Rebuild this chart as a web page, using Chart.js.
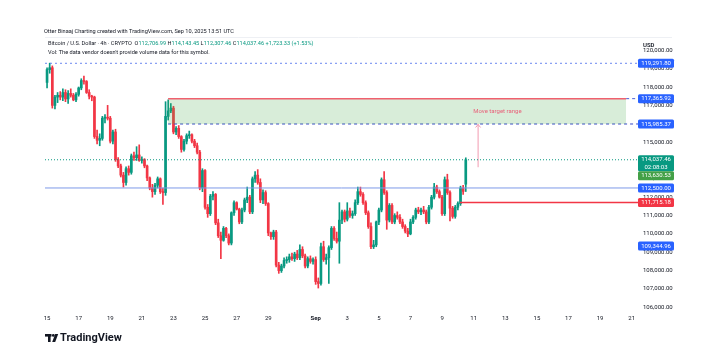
<!DOCTYPE html>
<html><head><meta charset="utf-8">
<script src="https://cdn.jsdelivr.net/npm/chart.js@4.4.1/dist/chart.umd.min.js"></script>
<style>html,body{margin:0;padding:0;background:#fff;}#wrap{width:720px;height:352px;}</style>
</head><body><div id="wrap"><canvas id="c" width="720" height="352"></canvas></div>
<script>
// ---- DATA ----
// 4h candles BTCUSD, first candle Aug 15 2025 00:00 UTC; x value = days since Aug 15
const candleStepDays = 1/6;
// [open, high, low, close]
const ohlc = [
[118250,119050,117950,118950],[118950,119300,118750,119050],[119050,119150,116850,117000],[117000,117550,116800,117450],[117450,117700,117150,117550],[117550,117750,117300,117450],
[117450,117900,117250,117700],[117700,117850,117200,117350],[117350,117800,117100,117650],[117650,117900,117450,117550],[117550,117650,117250,117300],[117300,117700,117200,117600],
[117600,118000,117500,117950],[117950,118450,117850,118350],[118350,118600,118150,118300],[118300,118350,117650,117700],[117700,117850,117350,117500],[117500,117550,117250,117450],
[117450,117500,115200,115300],[115300,115650,114900,115100],[115100,115450,114800,115200],[115200,116400,115100,116300],[116300,116500,116050,116350],[116350,117000,116200,116300],
[116300,116400,114950,115050],[115050,115650,114900,115550],[115550,115700,113950,114050],[114050,114150,113600,113700],[113700,113800,113100,113200],[113200,113350,112550,112800],
[112800,113650,112650,113550],[113550,113700,113200,113350],[113350,114350,113250,114250],[114250,114450,114000,114150],[114150,114750,114000,114300],[114300,114850,113950,114000],
[114000,114200,113850,114050],[114050,114100,113600,113700],[113700,113750,112900,113050],[113050,113100,112400,112500],[112500,112700,112000,112300],[112300,112750,112150,112650],
[112650,113100,112500,113000],[113000,113050,112200,112300],[112300,112500,111600,112250],[112250,117200,112100,116400],[116400,117300,116200,116700],[116700,117100,116600,116850],
[116850,116950,115450,115550],[115550,115850,115400,115750],[115750,115900,115200,115300],[115300,115350,114450,114600],[114600,115150,114500,115050],[115050,115450,114900,115350],
[115350,115600,115200,115400],[115400,115450,114950,115050],[115050,115150,114700,114800],[114800,114950,114350,114450],[114450,114550,112400,112500],[112500,113550,112300,113450],
[113450,113500,111350,111450],[111450,111600,110900,111100],[111100,112150,111000,112050],[112050,112300,111850,112150],[112150,112200,110500,110600],[110600,110800,109800,109900],
[109900,110100,108650,109650],[109650,110400,109600,110300],[110300,110350,109800,109900],[109900,110000,109400,109500],[109500,111200,109400,111150],[111150,111800,111000,111700],
[111700,111750,111300,111350],[111350,111400,110550,110650],[110650,111400,110550,111300],[111300,111950,111200,111850],[111850,112550,111700,112000],[112000,112100,111100,111200],
[111200,113100,111100,113000],[113000,113400,112800,113200],[113200,113500,112700,112800],[112800,113000,111700,111850],[111850,112400,111650,112250],[112250,112350,111550,111650],
[111650,111700,109900,110050],[110050,110100,109700,109850],[109850,110200,109700,110100],[110100,110200,108200,108300],[108300,108450,107850,108000],[108000,108350,107900,108250],
[108250,108700,108150,108550],[108550,108750,108400,108600],[108600,108900,108450,108750],[108750,108950,108550,108650],[108650,109000,108500,108900],[108900,109100,108600,108700],
[108700,109400,108600,109150],[109150,109300,108700,108800],[108800,108900,108150,108250],[108250,108750,108150,108650],[108650,108800,108400,108500],[108500,108700,108350,108600],
[108600,108750,107250,107400],[107400,107600,107050,107300],[107300,109500,107200,109300],[109300,109600,108500,108600],[108600,108900,108350,108700],[108700,109350,107300,109250],
[109250,110400,109150,110300],[110300,110400,109650,109750],[109750,110100,109500,109600],[109600,111700,108400,110750],[110750,111300,110550,111200],[111200,111300,110650,110800],
[110800,111700,110700,111250],[111250,111400,110900,111000],[111000,111250,110850,111100],[111100,111850,111000,111700],[111700,112550,111600,112300],[112300,112550,112050,112150],
[112150,112250,111600,111700],[111700,111800,111050,111150],[111150,111250,110300,110400],[110400,110600,109200,109300],[109300,109650,109200,109400],[109400,110700,109300,110650],
[110650,111400,110500,111300],[111300,113050,111200,112950],[112950,113400,112150,112250],[112250,112350,110250,110750],[110750,111650,110650,111550],[111550,111650,110550,110650],
[110650,111100,110550,111000],[111000,111200,110800,110900],[110900,111050,110550,110650],[110650,110800,110300,110400],[110400,110500,110050,110150],[110150,110300,109850,110000],
[110000,110800,109950,110650],[110650,111000,110550,110900],[110900,111400,110800,111300],[111300,111450,111100,111200],[111200,111400,111050,111300],[111300,111500,111100,111200],
[111200,111300,110550,110650],[110650,111550,110550,111450],[111450,112100,111350,112000],[112000,112750,111900,112550],[112550,112650,112200,112300],[112300,112400,111950,112000],
[112000,112100,111000,111100],[111100,113100,111000,112950],[112950,113250,112150,112250],[112250,112350,110700,111400],[111400,111500,110850,110950],[110950,111550,110850,111450],
[111450,111750,111300,111650],[111650,112600,111550,112500],[112500,112650,112150,112314.13],[112706.99,114143.45,112307.46,114037.46]
];

// x-axis ticks (days since Aug 15) and their labels
const xTickDays   = [0,2,4,6,8,10,12,14,17,19,21,23,25,27,29,31,33,35,37];
const xTickLabels = ['15','17','19','21','23','25','27','29','Sep','3','5','7','9','11','13','15','17','19','21'];
// y-axis ticks
const yTickValues = [106000,107000,108000,109000,110000,111000,112000,113000,114000,115000,116000,117000,118000,119000,120000];

// drawn levels
const highLevel    = 119291.80;
const rangeTop     = 117365.92;
const rangeBottom  = 115985.37;
const lastPrice    = 114037.46;
const arrowFrom    = 113630.53;
const pivotLevel   = 112500.00;
const supportLevel = 111715.18;
const lowLevel     = 109344.96;
const rangeStartDay = 7.66, rangeEndDay = 36.65;
const supportStartDay = 26.14;
const arrowDay = 27.28;
const noteText = 'Move target range', noteDay = 28.5, notePrice = 116640;
const countdown = '02:08:03';

// axis price labels
const axisLabelValues = [highLevel, rangeTop, rangeBottom, lastPrice, arrowFrom, pivotLevel, supportLevel, lowLevel];
const axisLabelColors = ['#2962ff','#2962ff','#2962ff','#089981','#43a047','#2962ff','#f23645','#2962ff'];

// view range
const X_MIN = -0.13, X_MAX = 37.4;
const Y_MIN = 105745, Y_MAX = 120669;

// ---- STYLE ----
const UP = '#089981', DOWN = '#f23645';
const FONT = 'Roboto, "Liberation Sans", Arial, sans-serif';
Chart.defaults.font.family = FONT;

const bodyData = ohlc.map((r,i)=>({x:i*candleStepDays, y:[Math.min(r[0],r[3]), Math.max(r[0],r[3])]}));
const wickData = ohlc.map((r,i)=>({x:i*candleStepDays, y:[r[2], r[1]]}));
const candleColors = ohlc.map(r => r[3] >= r[0] ? UP : DOWN);

function hline(p, x0, x1){ return [{x:x0,y:p},{x:x1,y:p}]; }
const lineBase = {type:'line', pointRadius:0, borderWidth:1, fill:false, tension:0};

const fmt = v => v.toLocaleString('en-US',{minimumFractionDigits:2, maximumFractionDigits:2});

const overlay = {
  id:'overlay',
  afterDatasetsDraw(chart){
    const {ctx, scales:{x,y}} = chart;
    ctx.save();
    const ax = x.getPixelForValue(arrowDay), ay = y.getPixelForValue(rangeBottom);
    ctx.strokeStyle = '#f29bb0'; ctx.lineWidth = 1;
    ctx.beginPath(); ctx.moveTo(ax-2.5, ay+3.5); ctx.lineTo(ax, ay+0.5); ctx.lineTo(ax+2.5, ay+3.5); ctx.stroke();
    ctx.fillStyle = '#e8637b'; ctx.font = '6px '+FONT; ctx.textAlign='center'; ctx.textBaseline='middle';
    ctx.fillText(noteText, x.getPixelForValue(noteDay), y.getPixelForValue(notePrice));
    ctx.restore();
  },
  afterDraw(chart){
    const {ctx, scales:{y}, chartArea} = chart;
    ctx.save();
    // pane top line
    ctx.strokeStyle = '#eef0f4'; ctx.lineWidth = 1;
    ctx.beginPath(); ctx.moveTo(chartArea.left, 37.5); ctx.lineTo(672, 37.5); ctx.stroke();
    // axis price labels
    const items = axisLabelValues.map((v,i)=>({v, c:axisLabelColors[i], yy:y.getPixelForValue(v), two: v===lastPrice}));
    items.sort((a,b)=>a.yy-b.yy);
    let prevBottom = -1e9;
    const bx = chartArea.right, bw = 36;
    items.forEach(it=>{
      const h = it.two ? 16 : 9;
      let top = it.yy - 4.5;
      if (top < prevBottom) top = prevBottom;
      prevBottom = top + h;
      ctx.fillStyle = it.c;
      ctx.beginPath(); ctx.roundRect(bx, top, bw, h, 1.5); ctx.fill();
      ctx.fillStyle = '#fff'; ctx.font = '6px '+FONT; ctx.textAlign='center'; ctx.textBaseline='middle';
      ctx.fillText(fmt(it.v), bx+bw/2, top+4.7);
      if (it.two) ctx.fillText(countdown, bx+bw/2, top+11.8);
    });
    // header
    ctx.textAlign='left'; ctx.textBaseline='middle';
    ctx.font = '5.6px '+FONT; ctx.fillStyle = '#131722';
    ctx.fillText('Otter Binaaj Charting created with TradingView.com, Sep 10, 2025 13:51 UTC', 44, 32);
    let tx = 48;
    const segs = [['Bitcoin / U.S. Dollar · 4h · CRYPTO  ','#131722'],['O','#131722'],['112,706.99 ',UP],['H','#131722'],['114,143.45 ',UP],['L','#131722'],['112,307.46 ',UP],['C','#131722'],['114,037.46 +1,723.33 (+1.53%)',UP]];
    segs.forEach(s=>{ ctx.fillStyle=s[1]; ctx.fillText(s[0], tx, 44); tx += ctx.measureText(s[0]).width; });
    ctx.fillStyle = '#131722';
    ctx.fillText("Vol: The data vendor doesn't provide volume data for this symbol.", 48, 53);
    ctx.font = '600 6px '+FONT; ctx.fillText('USD', 643, 45);
    // logo
    ctx.fillStyle = '#131722';
    ctx.fillRect(45, 334, 6.5, 2.6); ctx.fillRect(48, 334, 2.6, 8);
    ctx.beginPath(); ctx.arc(53.3, 335.4, 1.4, 0, Math.PI*2); ctx.fill();
    ctx.beginPath(); ctx.moveTo(55.2,334); ctx.lineTo(58.2,334); ctx.lineTo(55.2,342); ctx.lineTo(52.2,342); ctx.closePath(); ctx.fill();
    ctx.font = 'bold 11px '+FONT; ctx.textBaseline='middle';
    ctx.fillText('TradingView', 60, 338.5);
    ctx.restore();
  }
};

new Chart(document.getElementById('c'), {
  type:'bar',
  data:{ datasets:[
    {...lineBase, data:hline(rangeTop, rangeStartDay, rangeEndDay), borderColor:'#f0606e', borderWidth:1.5,
      fill:{value:rangeBottom}, backgroundColor:'rgba(76,175,80,0.22)', order:1},
    {...lineBase, data:hline(rangeTop, rangeEndDay, X_MAX), borderColor:'#4a5fd6', borderDash:[3,3], order:2},
    {...lineBase, data:hline(rangeBottom, rangeStartDay, X_MAX), borderColor:'#3447c8', borderDash:[3,3], order:2},
    {...lineBase, data:hline(highLevel, X_MIN, X_MAX), borderColor:'#6a86f0', borderDash:[2,3], order:2},
    {...lineBase, data:hline(lastPrice, X_MIN, X_MAX), borderColor:'#089981', borderDash:[1,2], order:2},
    {...lineBase, data:hline(pivotLevel, X_MIN, X_MAX), borderColor:'#7d9ae8', order:2},
    {...lineBase, data:hline(supportLevel, supportStartDay, X_MAX), borderColor:'#f23645', borderWidth:1.5, order:2},
    {...lineBase, data:[{x:arrowDay,y:arrowFrom},{x:arrowDay,y:rangeBottom}], borderColor:'#f29bb0', order:2},
    {type:'bar', data:wickData, backgroundColor:candleColors, barThickness:1, grouped:false, order:4},
    {type:'bar', data:bodyData, backgroundColor:candleColors, barThickness:2, minBarLength:1, grouped:false, order:3}
  ]},
  options:{
    responsive:false, animation:false, devicePixelRatio:1,
    layout:{padding:{left:45, right:30, top:38, bottom:28}},
    plugins:{legend:{display:false}, tooltip:{enabled:false}},
    scales:{
      x:{type:'linear', min:X_MIN, max:X_MAX, offset:false,
        grid:{display:false, drawTicks:false}, border:{display:false},
        afterBuildTicks:s=>{ s.ticks = xTickDays.map(v=>({value:v})); },
        afterFit:s=>{ s.height = 12; },
        ticks:{autoSkip:false, maxRotation:0, padding:3, color:'#131722',
          font:c=>({size:6, weight: xTickLabels[c.index]==='Sep' ? 'bold':'normal'}),
          callback:(v,i)=>xTickLabels[i]}
      },
      y:{type:'linear', position:'right', min:Y_MIN, max:Y_MAX,
        grid:{display:false, drawTicks:false}, border:{display:false},
        afterBuildTicks:s=>{ s.ticks = yTickValues.map(v=>({value:v})); },
        afterFit:s=>{ s.width = 52; },
        ticks:{padding:5, color:'#131722', font:{size:6}, callback:v=>fmt(v)}
      }
    }
  },
  plugins:[overlay]
});
</script>
</body></html>
